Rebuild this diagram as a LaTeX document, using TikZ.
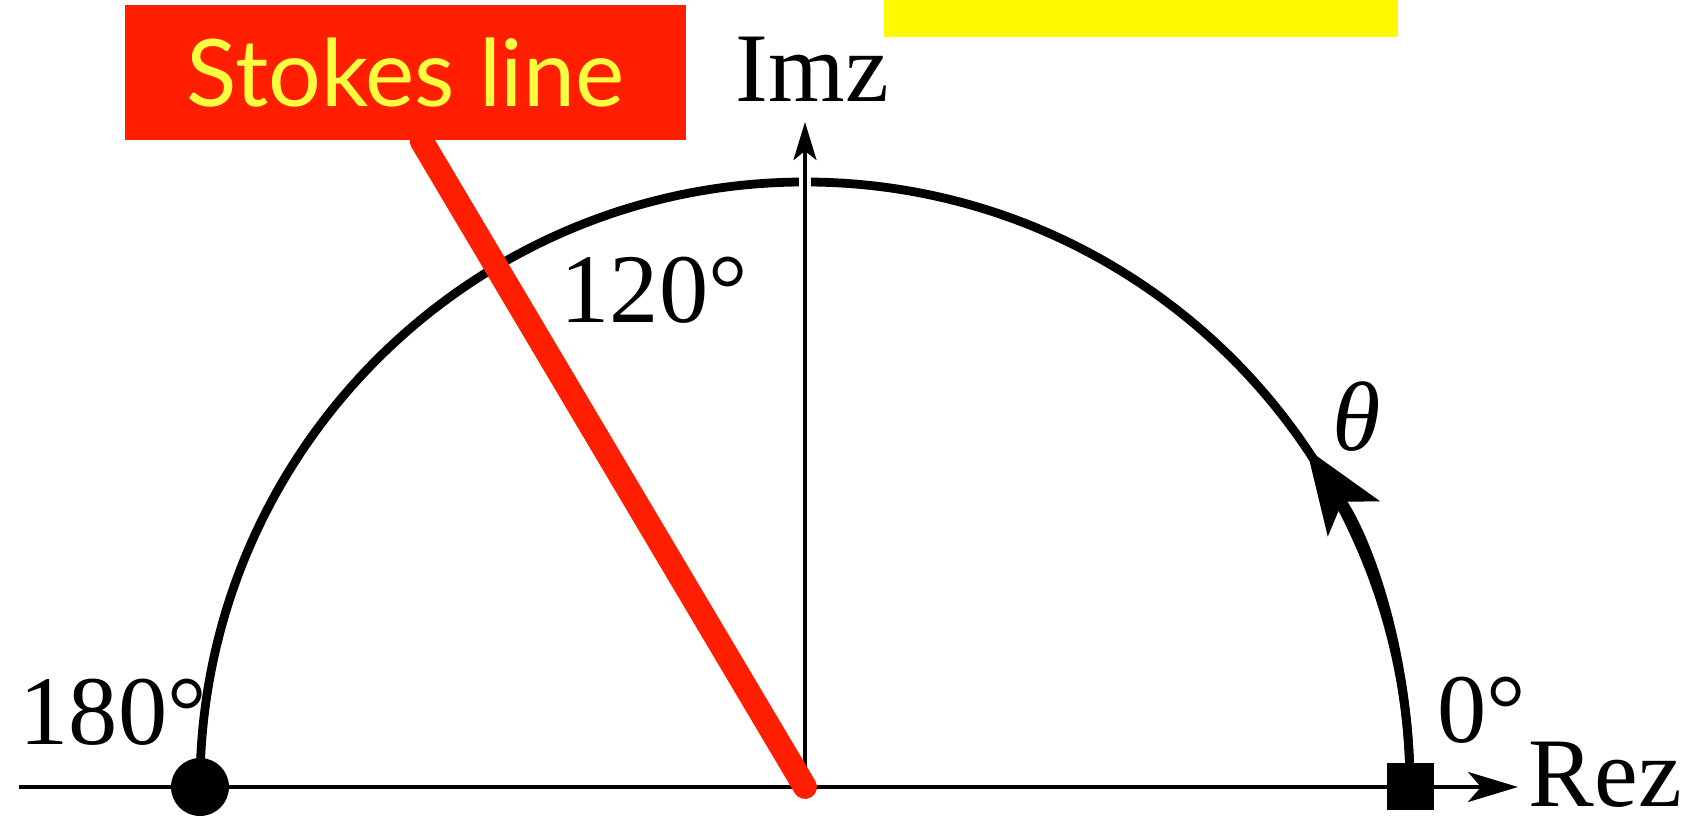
\documentclass[tikz,border=0pt]{standalone}
\usepackage{fontspec}
\setmainfont{Liberation Serif}
\newfontfamily\stokesfont{Lato}
\usetikzlibrary{
  arrows.meta,
  backgrounds
}
\definecolor{stokesred}{RGB}{255,30,0}
\definecolor{labelyellow}{RGB}{255,255,64}
\definecolor{markyellow}{RGB}{255,250,0}
\tikzset{
  >=Stealth,
  axis/.style={
    draw=black,
    line width=1.1pt,
    -{Stealth[length=3.8mm,width=2.3mm,inset=0.9mm]}
  },
  contour/.style={
    draw=black,
    line width=2.5pt
  },
  flow/.style={
    contour,
    -{Stealth[length=8.4mm,width=6.2mm,inset=2mm]}
  },
  stokes/.style={
    draw=stokesred,
    line width=6.8pt,
    line cap=round
  },
  stokesbox/.style={
    fill=stokesred,
    minimum width=56.1mm,
    minimum height=13.5mm,
    text=labelyellow,
    font=\stokesfont\fontsize{26.5}{30}\selectfont
  },
  blankbox/.style={
    fill=markyellow,
    minimum width=51.4mm,
    minimum height=3.7mm,
    inner sep=0pt
  },
  dot/.style={
    circle,
    fill=black,
    minimum size=5.8mm,
    inner sep=0pt
  },
  endsquare/.style={
    rectangle,
    fill=black,
    minimum size=4.7mm,
    inner sep=0pt
  },
  lbl/.style={
    font=\fontsize{28}{30}\selectfont,
    inner sep=0pt,
    anchor=base west
  }
}

\begin{document}
\begin{tikzpicture}

\useasboundingbox (-8.05,-0.30) rectangle (8.83,7.87);

% Axes.
\coordinate (O) at (0,0);
\coordinate (xstart) at (-7.86,0);
\coordinate (xend) at (7.13,0);
\coordinate (yend) at (0,6.65);

% Half circle with the direction of theta.
\coordinate (east) at (0:6.05);
\draw[contour] (east) arc[start angle=0, end angle=180, radius=6.05];
\draw[flow] (east) arc[start angle=0, end angle=34, radius=6.05];

\draw[axis, preaction={draw=white, line width=3.5pt, -, shorten <=1cm}] (O) -- (yend);
\draw[axis, -{Stealth[length=5mm,width=3mm,inset=1.3mm]}] (xstart) -- (xend);

% Stokes line and its label.
\node[stokesbox] (stokes) at (-3.995,7.145) {Stokes line};
\draw[stokes] (O) -- ([xshift=1.6mm]stokes.south);
\node[blankbox] (blank) at (3.36,7.685) {};

% End points.
\node[dot] (start) at (180:6.05) {};
\node[endsquare] (zero) at (0:6.05) {};

% Labels.
\node[lbl] (imz) at (-0.70,6.85) {Imz};
\node[lbl] (rez) at (7.23,-0.20) {Rez};
\node[lbl] (deg0) at (6.32,0.44) {0°};
\node[lbl] (deg180) at (-7.86,0.42) {180°};
\node[lbl] (deg120) at (-2.45,4.64) {120°};
\node[lbl, anchor=center] (theta) at (5.52,3.70) {\itshape θ};

\end{tikzpicture}
\end{document}
